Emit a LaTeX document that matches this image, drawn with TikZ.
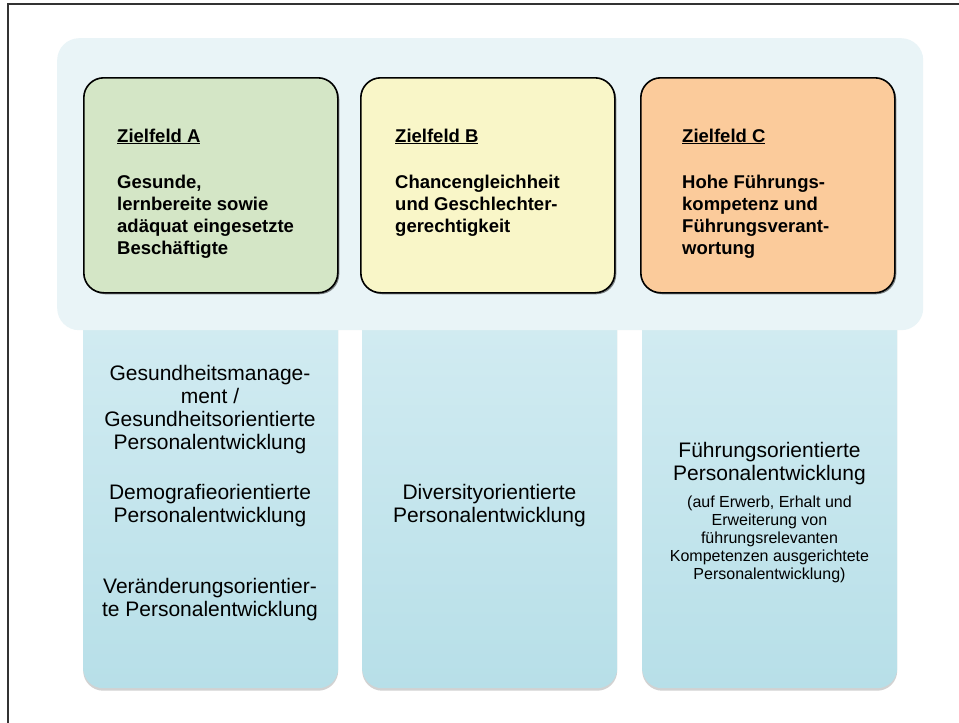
\documentclass[tikz,border=0pt]{standalone}
\usepackage{fontspec}
\setmainfont{Liberation Sans}
\usetikzlibrary{shadows}
\definecolor{bandc}{HTML}{E9F4F7}
\definecolor{greenA}{HTML}{D4E6C6}
\definecolor{yellowB}{HTML}{F9F6C8}
\definecolor{orangeC}{HTML}{FBCB9B}
\definecolor{colTop}{HTML}{D3ECF2}
\definecolor{colBot}{HTML}{B7DFE8}
\definecolor{framec}{HTML}{333333}
\tikzset{
  goalbox/.style={draw=black, line width=1.6pt, rounded corners=20pt, minimum width=254pt, minimum height=215pt, anchor=north west, inner sep=0pt,
    drop shadow={shadow xshift=1.5pt, shadow yshift=-1.5pt, opacity=0.45, fill=black}},
  colbox/.style={rounded corners=20pt, minimum width=255pt, minimum height=388pt, anchor=north west, inner sep=0pt, top color=colTop, bottom color=colBot, draw=none,
    drop shadow={shadow xshift=0pt, shadow yshift=-2.5pt, opacity=0.25, fill=black!70}},
  ztitle/.style={anchor=base west, inner sep=0pt, font=\fontsize{18.5}{22}\selectfont\bfseries},
  zbody/.style={anchor=north west, inner sep=0pt, align=left, font=\fontsize{18.5}{22}\selectfont\bfseries},
  coltext/.style={anchor=north, inner sep=0pt, align=center, font=\fontsize{21}{23}\selectfont},
  smalltext/.style={anchor=north, inner sep=0pt, align=center, font=\fontsize{16}{18}\selectfont},
}
\begin{document}
\begin{tikzpicture}[x=1pt,y=-1pt]
\useasboundingbox (0,0) rectangle (959,723);
\fill[white] (0,0) rectangle (959,723);
% outer frame (left and top visible)
\draw[framec, line width=1.5pt] (8,723) -- (8,4) -- (959,4);
% column boxes
\node[colbox] (colA) at (83,300) {};
\node[colbox] (colB) at (362,300) {};
\node[colbox] (colC) at (642,300) {};
% band
\node[fill=bandc, rounded corners=22pt, minimum width=866pt, minimum height=292pt, anchor=north west, inner sep=0pt] (band) at (57,38) {};
% goal boxes
\node[goalbox, fill=greenA] (boxA) at (83,77) {};
\node[goalbox, fill=yellowB] (boxB) at (360,77) {};
\node[goalbox, fill=orangeC] (boxC) at (640,77) {};
% titles
\node[ztitle] (tA) at (117,142) {\underline{Zielfeld A}};
\node[ztitle] (tB) at (395,142) {\underline{Zielfeld B}};
\node[ztitle] (tC) at (682,142) {\underline{Zielfeld C}};
% bodies
\node[zbody] (bA) at (117,175) {Gesunde,\\lernbereite sowie\\adäquat eingesetzte\\Beschäftigte};
\node[zbody] (bB) at (395,175) {Chancengleichheit\\und Geschlechter-\\gerechtigkeit};
\node[zbody] (bC) at (682,175) {Hohe Führungs-\\kompetenz und\\Führungsverant-\\wortung};
% column texts
\node[coltext] (a1) at (210,365) {Gesundheitsmanage-\\ment /\\Gesundheitsorientierte\\Personalentwicklung};
\node[coltext] (a2) at (210,484) {Demografieorientierte\\Personalentwicklung};
\node[coltext] (a3) at (210,578) {Veränderungsorientier-\\te Personalentwicklung};
\node[coltext] (b1) at (489.5,484) {Diversityorientierte\\Personalentwicklung};
\node[coltext] (c1) at (769.5,442) {Führungsorientierte\\Personalentwicklung};
\node[smalltext] (c2) at (769.5,496) {(auf Erwerb, Erhalt und\\Erweiterung von\\führungsrelevanten\\Kompetenzen ausgerichtete\\Personalentwicklung)};
\end{tikzpicture}
\end{document}
